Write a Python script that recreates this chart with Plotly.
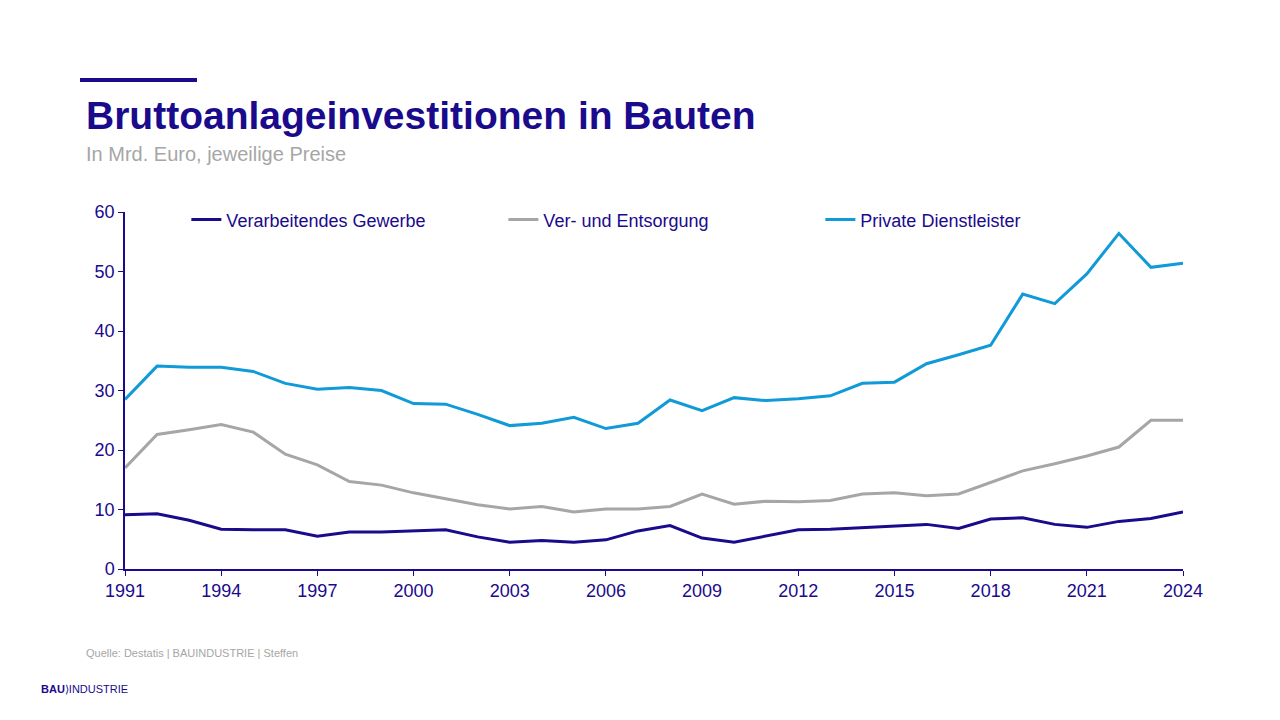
import plotly.graph_objects as go

years = list(range(1991, 2025))
verarbeitend = [9.1, 9.3, 8.2, 6.7, 6.6, 6.6, 5.5, 6.2, 6.2, 6.4, 6.6, 5.4, 4.5, 4.8, 4.5, 4.9, 6.4, 7.3, 5.2, 4.5, 5.5, 6.6, 6.7, 7.0, 7.2, 7.5, 6.8, 8.4, 8.6, 7.5, 7.0, 8.0, 8.5, 9.6]
versorgung = [17.0, 22.6, 23.4, 24.3, 23.0, 19.3, 17.5, 14.7, 14.1, 12.8, 11.8, 10.8, 10.1, 10.5, 9.6, 10.1, 10.1, 10.5, 12.6, 10.9, 11.4, 11.3, 11.5, 12.6, 12.8, 12.3, 12.6, 14.5, 16.5, 17.7, 19.0, 20.5, 25.0, 25.0]
private = [28.5, 34.1, 33.9, 33.9, 33.2, 31.2, 30.2, 30.5, 30.0, 27.8, 27.7, 26.0, 24.1, 24.5, 25.5, 23.6, 24.5, 28.4, 26.6, 28.8, 28.3, 28.6, 29.1, 31.2, 31.4, 34.5, 36.0, 37.6, 46.2, 44.6, 49.6, 56.4, 50.7, 51.4]
tick_years = list(range(1991, 2025, 3))

navy = "#1A0A8C"
fig = go.Figure()
for name, vals, col in [("Verarbeitendes Gewerbe", verarbeitend, navy),
                        ("Ver- und Entsorgung", versorgung, "#A6A6A6"),
                        ("Private Dienstleister", private, "#109AD7")]:
    fig.add_trace(go.Scatter(x=years, y=vals, name=name, mode="lines",
                             line=dict(color=col, width=3)))

H = 357.0
def py(y):
    return (569 - y) / H

fig.update_layout(
    width=1280, height=720, paper_bgcolor="white", plot_bgcolor="white",
    margin=dict(l=117, r=105, t=204, b=159),
    font=dict(family="Liberation Sans, Arial", color=navy),
    showlegend=True,
    legend=dict(orientation="h", x=0.058, y=1.03, xanchor="left", yanchor="top",
                font=dict(size=18, color=navy), bgcolor="rgba(0,0,0,0)",
                entrywidth=272, entrywidthmode="pixels"),
    xaxis=dict(range=[1991, 2024], tickvals=tick_years, showgrid=False,
               showline=True, linecolor=navy, linewidth=1.5, ticks="outside",
               tickcolor=navy, ticklen=5, tickfont=dict(size=18, color=navy)),
    yaxis=dict(range=[0, 60], dtick=10, showgrid=False, showline=True,
               linecolor=navy, linewidth=1.5, ticks="outside", tickcolor=navy,
               ticklen=5, tickfont=dict(size=18, color=navy)),
    shapes=[dict(type="line", xref="paper", yref="paper", x0=(80-125)/1058, x1=(197-125)/1058,
                 y0=py(80), y1=py(80), line=dict(color=navy, width=4))],
    annotations=[
        dict(text="<b>Bruttoanlageinvestitionen in Bauten</b>", xref="paper", yref="paper",
             x=(84-125)/1058, y=py(115), xanchor="left", yanchor="middle",
             showarrow=False, font=dict(size=39, color=navy)),
        dict(text="In Mrd. Euro, jeweilige Preise", xref="paper", yref="paper",
             x=(84-125)/1058, y=py(154), xanchor="left", yanchor="middle",
             showarrow=False, font=dict(size=20, color="#A6A6A6")),
        dict(text="Quelle: Destatis | BAUINDUSTRIE | Steffen", xref="paper", yref="paper",
             x=(84-125)/1058, y=py(653), xanchor="left", yanchor="middle",
             showarrow=False, font=dict(size=11, color="#A6A6A6")),
        dict(text="<b>BAU</b>⟩INDUSTRIE", xref="paper", yref="paper",
             x=(39-125)/1058, y=py(689), xanchor="left", yanchor="middle",
             showarrow=False, font=dict(size=11, color=navy)),
    ],
)
fig.write_html("out.html")
